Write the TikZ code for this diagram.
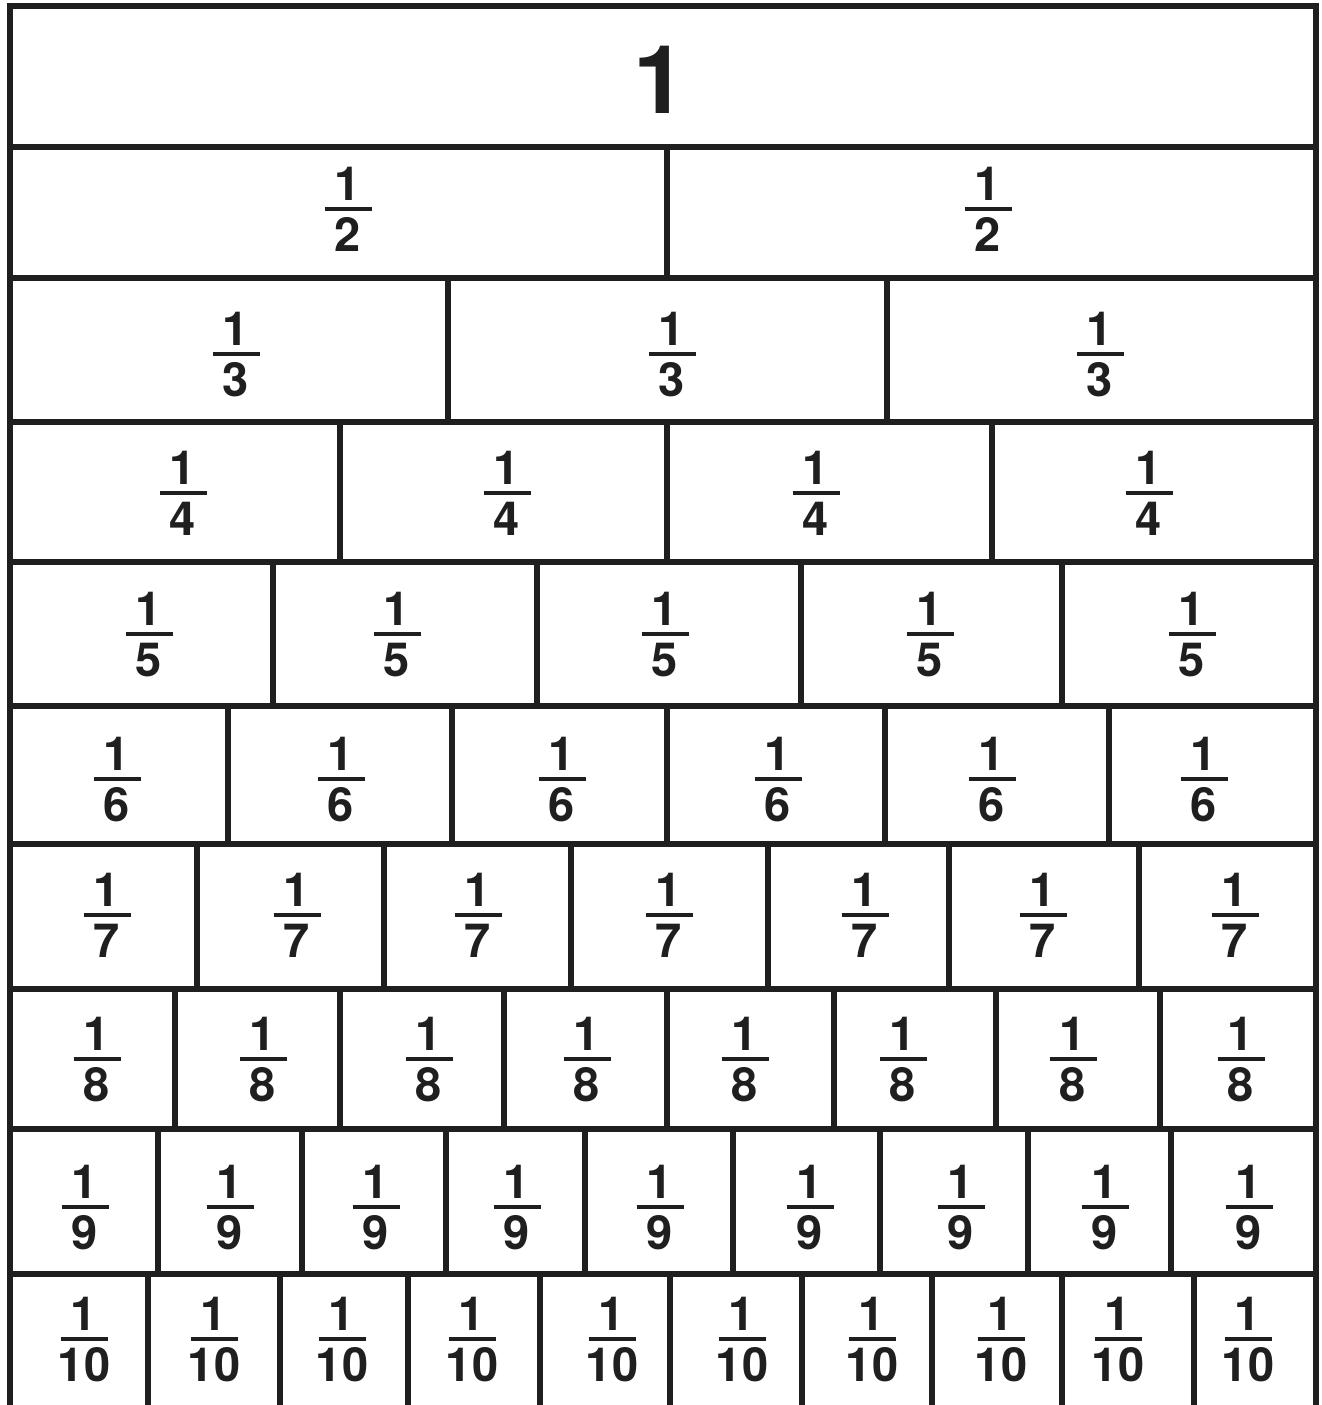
\documentclass[tikz,border=0pt]{standalone}
\usepackage{fontspec}
\setmainfont{TeX Gyre Heros}
\begin{document}
\begin{tikzpicture}[x=1pt,y=-1pt,
  wall/.style={line width=5.4pt,color=black!88,line cap=rect},
  fbar/.style={line width=4.4pt,color=black!88},
  numtxt/.style={inner sep=0pt,anchor=base,text=black!88,font=\fontsize{47}{50}\selectfont\bfseries},
  dentxt/.style={inner sep=0pt,anchor=north,text=black!88,font=\fontsize{47}{50}\selectfont\bfseries},
  onetxt/.style={inner sep=0pt,anchor=base,text=black!88,font=\fontsize{95}{100}\selectfont\bfseries}]
\useasboundingbox (0,0) rectangle (1322,1405);
\fill[white] (0,0) rectangle (1322,1405);
\begin{scope}
\clip (0,0) rectangle (1322,1405);
% outer frame
\draw[wall,line cap=butt] (10,1410) -- (10,6) -- (1316,6) -- (1316,1410);
% row lines
\foreach \yy in {147,278,422,562,706,844,989,1129,1274}
  \draw[wall] (10,\yy) -- (1316,\yy);
% vertical dividers
\foreach \ya/\yb/\xs in {147/278/{667},
  278/422/{448,887},
  422/562/{340,667,992},
  562/706/{273,537,801,1062},
  706/844/{228,452,667,885,1109},
  844/989/{197,384,571,768,949,1139},
  989/1129/{175,340,504,667,834,996,1160},
  1129/1274/{158,302,446,585,733,880,1028,1171},
  1274/1410/{148,280,408,540,670,802,932,1062,1194}}
  \foreach \xx in \xs
    \draw[wall,line cap=butt] (\xx,\ya) -- (\xx,\yb);
\end{scope}
% whole
\node[onetxt] (whole) at (660,113) {1};
% fractions
\foreach \d/\by/\xs in {2/209/{348,988},
  3/354/{236,672,1100},
  4/493/{183,507,816,1149},
  5/634/{149,397,665,930,1192},
  6/779/{117,341,562,778,992,1204},
  7/915/{107,297,478,669,865,1043,1235},
  8/1059/{97,263,429,587,745,903,1073,1241},
  9/1207/{85,230,376,517,660,810,961,1105,1249},
  10/1339/{84,214,342,472,612,742,872,1001,1118,1248}}
  \foreach \xx [count=\i] in \xs {
    \node[numtxt] (n\d-\i) at (\xx,\by-9) {1};
    \node[dentxt] (d\d-\i) at (\xx,\by+8.5) {\d};
    \draw[fbar] (\xx-23.5,\by) -- (\xx+23.5,\by);
  }
\end{tikzpicture}
\end{document}
